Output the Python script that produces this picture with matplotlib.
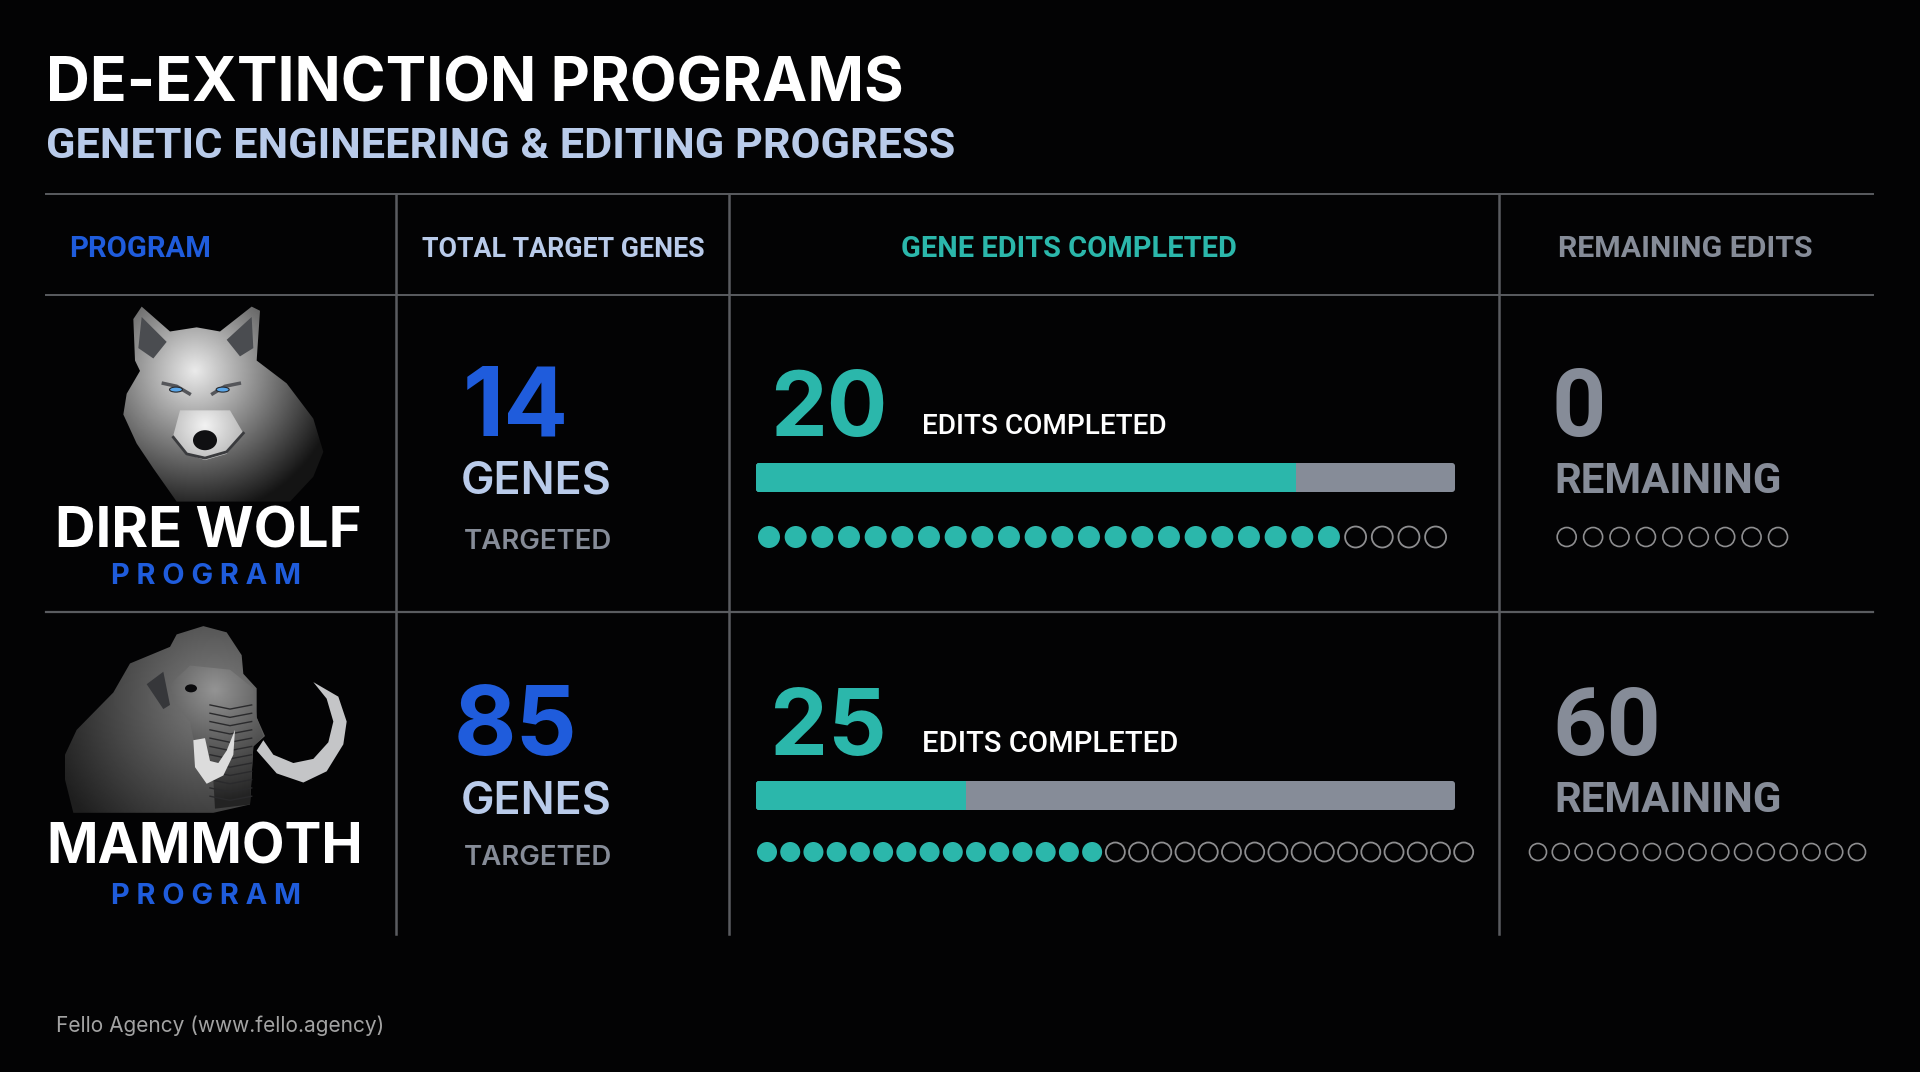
import numpy as np
from matplotlib import pyplot as plt
from matplotlib.patches import Circle, FancyBboxPatch, Polygon, Ellipse, Rectangle

# values
programs = ['DIRE WOLF', 'MAMMOTH']
target_genes = ['14', '85']
edits_done = ['20', '25']
remaining = ['0', '60']
bar_share = [0.773, 0.301]
dots_filled = [22, 15]
dots_empty = [4, 16]
dots_remaining = [9, 15]

headers = ['PROGRAM', 'TOTAL TARGET GENES', 'GENE EDITS COMPLETED', 'REMAINING EDITS']

BG = '#030304'
BLUE = '#1f5cdc'
TEAL = '#2bb7ab'
GREY = '#868c98'
PALE = '#b9cbea'
LINE = '#5a5c60'
HAIR = '\u200a'


def spaced(s, n=1):
    # no letter spacing in matplotlib, hair spaces get close
    return (HAIR * n).join(s)


fig = plt.figure(figsize=(19.2, 10.72), dpi=100, facecolor=BG)
ax = fig.add_axes([0, 0, 1, 1])
ax.set_facecolor(BG)
ax.axis('off')


def label(x, y, s, px, color, weight='bold', ha='left', family='Inter'):
    # y is the baseline, px the font size in pixels
    ax.text(x, y, s, fontsize=px * 0.72, color=color, fontweight=weight, ha=ha,
            va='baseline', family=[family, 'DejaVu Sans'], zorder=6)


def shaded(poly, cx, cy, radius, hi, lo, z=2):
    # polygon filled with a radial grey fade
    yy, xx = np.mgrid[280:960:340j, 40:380:170j]
    d = np.clip(np.hypot(xx - cx, yy - cy) / radius, 0, 1)
    im = ax.imshow(hi + (lo - hi) * d, extent=(40, 380, 960, 280), cmap='gray', vmin=0, vmax=1,
                   zorder=z, interpolation='bilinear', aspect='auto')
    patch = Polygon(poly, closed=True, transform=ax.transData, fc='none', ec='none')
    ax.add_patch(patch)
    im.set_clip_path(patch)


def crop(pts):
    # outlines were traced on a zoomed crop of the left column
    p = np.array(pts, dtype=float)
    return np.c_[30 + p[:, 0] / 3, 290 + p[:, 1] / 2.41]


# title block
label(46, 102, 'DE-EXTINCTION PROGRAMS', 60.7, '#ffffff')
label(46, 158, 'GENETIC ENGINEERING & EDITING PROGRESS', 43.3, PALE, family='Roboto')

# grid
ax.plot([46, 1873], [194, 194], color=LINE, lw=1.4)
ax.plot([46, 1873], [295, 295], color=LINE, lw=1.4)
ax.plot([46, 1873], [612, 612], color=LINE, lw=1.6)
for vx in [396, 729, 1499]:
    ax.plot([vx, vx], [195, 934], color=LINE, lw=1.8)

# header row
header_x = [69, 422, 901, 1558]
header_c = [BLUE, PALE, TEAL, GREY]
header_px = [29.3, 26.7, 29, 30.3]
for hx, h, c, px in zip(header_x, headers, header_c, header_px):
    label(hx, 257, h, px, c, family='Roboto')

# animals, wolf first
wolf = crop([(335, 40), (310, 70), (315, 170), (330, 195), (290, 250), (280, 300), (320, 370), (370, 430),
             (440, 510), (780, 510), (850, 450), (880, 390), (850, 310), (770, 225), (680, 170), (690, 50),
             (665, 40), (570, 100), (500, 90), (420, 100)])
shaded(wolf, 195, 370, 145, 0.92, 0.08)
for ear in [[(335, 65), (325, 140), (370, 165), (410, 125)], [(665, 65), (590, 120), (630, 160), (670, 140)]]:
    ax.add_patch(Polygon(crop(ear), fc='#4a4c50', ec='none', zorder=3))
shaded(crop([(450, 290), (600, 290), (640, 345), (590, 395), (525, 410), (470, 395), (430, 350)]), 205, 425, 40, 0.95, 0.72, z=3)
for brow in [[(400, 225), (440, 232), (478, 250)], [(628, 225), (585, 232), (548, 250)]]:
    ax.plot(*crop(brow).T, color='#55565a', lw=2.5, zorder=4)
for ex in [438, 578]:
    c = crop([(ex, 240)])[0]
    ax.add_patch(Ellipse(c, 13, 5, fc='#5aa6e8', ec='#26282c', lw=0.8, zorder=5))
ax.add_patch(Ellipse(crop([(525, 362)])[0], 24, 20, fc='#101012', ec='none', zorder=5))
ax.plot(*crop([(430, 355), (470, 395), (525, 405), (590, 390), (640, 345)]).T, color='#3a3b3e', lw=2, zorder=4)

# mammoth
body = crop([(105, 1120), (140, 1060), (250, 970), (300, 900), (420, 860), (440, 830), (520, 810), (590, 825),
             (635, 880), (640, 925), (680, 960), (680, 1030), (705, 1075), (670, 1100), (660, 1240), (550, 1260),
             (130, 1260), (105, 1180)])
shaded(body, 215, 700, 175, 0.5, 0.12)
head = crop([(420, 950), (480, 905), (600, 915), (670, 960), (680, 1030), (700, 1075), (670, 1100), (660, 1240),
             (555, 1250), (550, 1180), (490, 1080), (480, 1040), (430, 990)])
shaded(head, 215, 690, 110, 0.58, 0.14, z=3)
ax.add_patch(Polygon(crop([(350, 950), (400, 920), (420, 1000), (400, 1010)]), fc='#36373a', ec='none', zorder=3))
ax.add_patch(Ellipse(crop([(483, 960)])[0], 12, 8, fc='#0a0a0c', ec='none', zorder=4))
for wy in range(1000, 1240, 20):
    ax.plot(*crop([(540, wy), (600, wy + 10), (665, wy)]).T, color='#2a2a2c', lw=1, zorder=4)
tusk_l = crop([(490, 1085), (495, 1150), (530, 1190), (580, 1170), (610, 1120), (615, 1060), (590, 1110),
               (565, 1140), (540, 1135), (525, 1080)])
tusk_r = crop([(680, 1110), (740, 1165), (820, 1187), (890, 1160), (940, 1095), (950, 1040), (925, 980), (850, 945),
               (890, 985), (910, 1040), (895, 1090), (850, 1130), (790, 1140), (730, 1120), (700, 1085)])
ax.add_patch(Polygon(tusk_l, fc='#dcdcdc', ec='none', zorder=5))
ax.add_patch(Polygon(tusk_r, fc='#c4c5c7', ec='none', zorder=5))

# one row per program
name_base = [548, 863]
name_px = [56, 55.4]
name_cx = [208, 204.5]
prog_base = [584, 904]
num_base = [436, 755]
genes_base = [493, 813]
targ_base = [549, 865]
edits_base = [434, 752]
edits_px = [28, 29.2]
done_px = [90, 92]
bar_top = [463, 781]
dot_y = [537, 852]
dot_r = [10.5, 9.5]
dot_x = [(769, 1435.6), (767, 1463.7)]
rem_x = [(1566.7, 1778), (1538, 1857)]
rem_r = [9.5, 8.5]
rem_base = [493, 812]
gene_x = [463, 454]

for i in range(2):
    label(name_cx[i], name_base[i], programs[i], name_px[i], '#ffffff', ha='center')
    label(206, prog_base[i], spaced('PROGRAM', 3), 29, BLUE, ha='center')

    label(gene_x[i], num_base[i], target_genes[i], 96, BLUE)
    label(461, genes_base[i], 'GENES', 44.8, PALE, weight='semibold')
    label(464, targ_base[i], 'TARGETED', 27.6, GREY, weight='semibold')

    label(770, num_base[i], edits_done[i], done_px[i], TEAL)
    label(922, edits_base[i], 'EDITS COMPLETED', edits_px[i], '#ffffff', family='Roboto', weight='medium')

    # progress bar, grey track with the teal share on top
    x0, x1 = 756, 1455
    ax.add_patch(FancyBboxPatch((x0 + 3, bar_top[i] + 3), x1 - x0 - 6, 23, boxstyle='round,pad=3',
                                fc=GREY, ec='none', zorder=3))
    split = x0 + (x1 - x0) * bar_share[i]
    ax.add_patch(FancyBboxPatch((x0 + 3, bar_top[i] + 3), 6, 23, boxstyle='round,pad=3', fc=TEAL, ec='none', zorder=4))
    ax.add_patch(Rectangle((x0 + 6, bar_top[i]), split - x0 - 6, 29, fc=TEAL, ec='none', zorder=4))

    n = dots_filled[i] + dots_empty[i]
    for k, cx in enumerate(np.linspace(dot_x[i][0], dot_x[i][1], n)):
        if k < dots_filled[i]:
            ax.add_patch(Circle((cx, dot_y[i]), dot_r[i] + 0.5, fc=TEAL, ec='none', zorder=4))
        else:
            ax.add_patch(Circle((cx, dot_y[i]), dot_r[i], fc='none', ec='#8e8e90', lw=1.3, zorder=4))

    label(1552, num_base[i], remaining[i], 95, GREY, family='Roboto')
    label(1554, rem_base[i], 'REMAINING', 42, GREY, family='Roboto')
    for cx in np.linspace(rem_x[i][0], rem_x[i][1], dots_remaining[i]):
        ax.add_patch(Circle((cx, dot_y[i]), rem_r[i], fc='none', ec='#8e8e90', lw=1.2, zorder=4))

label(56, 1032, 'Fello Agency (www.fello.agency)', 20.9, '#a3a3a3', weight='normal')

ax.set_xlim(0, 1920)
ax.set_ylim(1072, 0)
fig.savefig('out.png', dpi=100, facecolor=BG)
